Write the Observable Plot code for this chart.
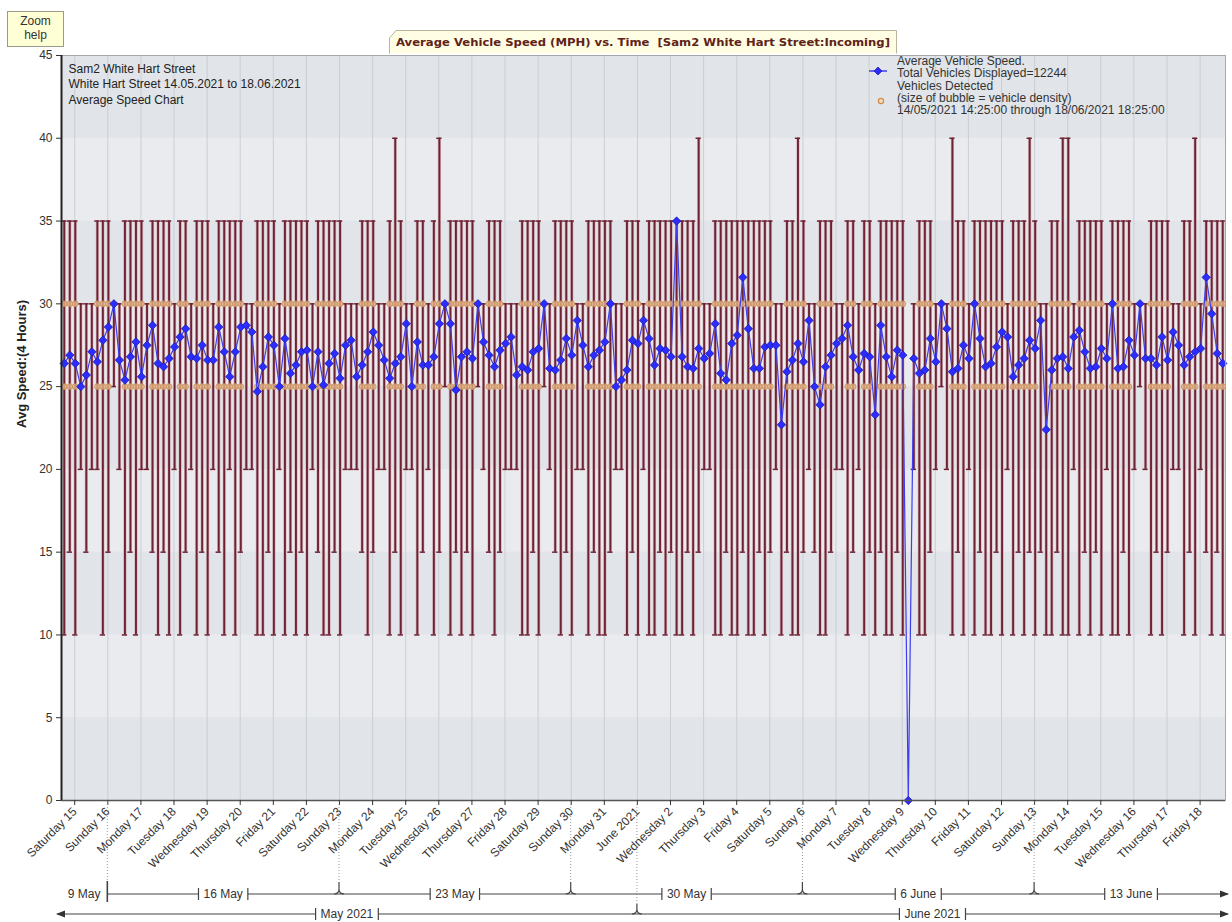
<!DOCTYPE html>
<html><head><meta charset="utf-8">
<script src="https://cdn.jsdelivr.net/npm/d3@7"></script>
<script src="https://cdn.jsdelivr.net/npm/@observablehq/plot@0.6"></script>
<style>html,body{margin:0;padding:0;background:#fff;} svg{display:block}</style>
</head><body><div id="chart"></div>
<script>
// ---------------- DATA ----------------
const startTime = new Date(2021, 4, 14, 14, 25);
const endTime = new Date(2021, 5, 18, 18, 25);
const firstPoint = new Date(2021, 4, 14, 16, 25); // centre of the first 4-hour bin
const binHours = 4;

const avgSpeed = [
26.4,26.9,26.4,25.0,25.7,27.1,26.5,27.8,28.6,30.0,26.6,25.4,26.8,27.7,25.6,27.5,28.7,26.4,26.2,26.7,
27.4,28.0,28.5,26.8,26.7,27.5,26.6,26.6,28.6,27.1,25.6,27.1,28.6,28.7,28.3,24.7,26.2,28.0,27.5,25.0,
27.9,25.8,26.3,27.1,
27.2,25.0,27.1,25.1,26.4,27.0,25.5,27.5,27.8,25.6,26.3,27.1,28.3,27.5,26.6,25.5,26.4,26.8,28.8,25.0,
27.7,26.3,26.3,26.8,28.8,30.0,28.8,24.8,26.8,27.1,26.7,30.0,27.7,26.9,26.2,27.2,27.6,28.0,25.7,26.2,
26.0,27.1,
27.3,30.0,26.1,26.0,26.6,27.9,26.9,29.0,27.5,26.2,26.9,27.2,27.7,30.0,25.0,25.4,26.0,27.8,27.6,29.0,
27.9,26.3,27.3,27.2,26.8,35.0,26.8,26.2,26.1,27.3,26.7,27.0,28.8,25.8,25.4,27.6,28.1,31.6,28.5,26.1,
26.1,27.4,27.5,
27.5,22.7,25.9,26.6,27.6,26.5,29.0,25.0,23.9,26.2,26.9,27.6,27.9,28.7,26.8,26.0,27.0,26.8,23.3,28.7,
26.8,25.6,27.2,26.9,0,26.7,25.8,26.0,27.9,26.5,30.0,28.5,25.9,26.1,27.5,26.7,30.0,27.9,26.2,26.4,
27.4,28.3,28.0,25.6,
26.3,26.7,27.8,27.3,29.0,22.4,26.0,26.7,26.8,26.1,28.0,28.4,27.1,26.1,26.2,27.3,26.7,30.0,26.1,26.2,
27.8,26.9,30.0,26.7,26.7,26.3,28.0,26.6,28.3,27.5,26.3,26.8,27.1,27.3,31.6,29.4,27.0,26.4
];

const maxSpeed = [
35,35,35,30,30,30,35,35,35,30,
30,35,35,35,35,30,35,35,35,35,
30,35,35,30,35,35,35,30,35,35,
35,35,35,30,30,35,35,35,35,30,
35,35,35,35,35,30,35,35,35,35,
35,30,30,30,35,35,35,30,30,35,
40,35,30,30,35,35,30,35,40,30,
35,35,35,35,35,30,30,35,35,35,
30,30,30,35,35,35,35,30,30,35,
35,35,35,30,30,35,35,35,35,35,
30,30,35,35,35,30,35,35,35,35,
35,35,35,35,35,40,30,30,35,35,
35,35,35,35,35,35,35,35,35,30,
30,35,35,40,35,30,30,35,35,35,
30,30,35,35,30,35,35,30,35,35,
35,35,35,null,30,35,35,35,30,30,
30,40,35,35,30,35,35,35,35,35,
35,30,35,35,35,40,35,30,30,35,
35,40,40,30,35,35,35,35,35,30,
35,35,35,35,30,30,30,35,35,35,
35,30,30,35,35,40,30,35,35,35,
35
];

const minSpeed = [
10,15,10,20,15,20,20,10,15,25,
20,10,15,10,20,20,15,10,15,10,
20,10,15,20,10,15,10,20,15,10,
20,10,15,20,20,10,10,15,10,20,
10,15,10,15,10,20,15,10,10,15,
10,20,20,20,15,10,15,20,20,10,
15,10,20,20,10,15,20,10,15,25,
10,15,10,15,10,25,20,15,10,15,
20,20,20,10,10,15,10,25,20,15,
10,15,10,20,20,10,15,10,10,15,
20,20,10,15,10,20,10,10,15,10,
15,10,10,15,10,15,20,20,10,10,
15,10,10,15,10,10,15,10,15,20,
10,15,10,10,15,20,15,10,10,15,
20,20,10,15,20,10,15,10,15,10,
10,15,10,null,20,10,10,15,20,25,
20,10,15,10,20,10,15,10,10,15,
10,20,10,15,10,15,10,15,10,10,
15,10,10,20,10,15,10,15,10,20,
10,10,15,10,20,25,20,10,15,10,
15,20,20,10,15,10,20,15,10,15,
10
];

const bubbleLevels = [25, 30];
const yTicks = [0, 5, 10, 15, 20, 25, 30, 35, 40, 45];
const dayLabels = ["Saturday 15","Sunday 16","Monday 17","Tuesday 18","Wednesday 19","Thursday 20","Friday 21",
  "Saturday 22","Sunday 23","Monday 24","Tuesday 25","Wednesday 26","Thursday 27","Friday 28","Saturday 29",
  "Sunday 30","Monday 31","June 2021","Wednesday 2","Thursday 3","Friday 4","Saturday 5","Sunday 6","Monday 7",
  "Tuesday 8","Wednesday 9","Thursday 10","Friday 11","Saturday 12","Sunday 13","Monday 14","Tuesday 15",
  "Wednesday 16","Thursday 17","Friday 18"];
const weekStarts = [new Date(2021,4,9), new Date(2021,4,16), new Date(2021,4,23), new Date(2021,4,30),
  new Date(2021,5,6), new Date(2021,5,13), new Date(2021,5,20)];
const weekLabels = ["9 May","16 May","23 May","30 May","6 June","13 June"];
const monthStarts = [new Date(2021,4,1), new Date(2021,5,1), new Date(2021,6,1)];
const monthLabels = ["May 2021","June 2021"];

const chartTitle = "Average Vehicle Speed (MPH) vs. Time  [Sam2 White Hart Street:Incoming]";
const infoLines = ["Sam2 White Hart Street", "White Hart Street 14.05.2021 to 18.06.2021", "Average Speed Chart"];
const legendLine1 = ["Average Vehicle Speed.", "Total Vehicles Displayed=12244"];
const legendLine2 = ["Vehicles Detected", "(size of bubble = vehicle density)", "14/05/2021 14:25:00 through 18/06/2021 18:25:00"];
const yLabel = "Avg Speed:(4 Hours)";

// ---------------- BUILD ----------------
const H = 3600 * 1000;
const rows = avgSpeed.map((v, i) => ({
  t: new Date(+firstPoint + i * binHours * H), avg: v, max: maxSpeed[i], min: minSpeed[i]
}));
const barRows = rows.filter(d => d.max != null);
const bubbles = [];
for (const d of barRows) for (const L of bubbleLevels) {
  if (d.max >= 35 && d.min <= L) bubbles.push({t: d.t, level: L});
}
const dayTicks = dayLabels.map((_, i) => new Date(2021, 4, 15 + i));
const labelOf = new Map(dayTicks.map((d, i) => [+d, dayLabels[i]]));
const darkBands = [0, 10, 20, 30, 40];
const barColor = "#6e2234";

const plot = Plot.plot({
  width: 1232, height: 922,
  marginLeft: 61, marginRight: 7, marginTop: 55, marginBottom: 122,
  style: {fontFamily: "Liberation Sans, Arial, sans-serif", fontSize: "12px", color: "#333", background: "#fff"},
  x: {type: "time", domain: [startTime, endTime]},
  y: {domain: [0, 45]},
  marks: [
    Plot.frame({fill: "#e9ebee"}),
    Plot.rect(darkBands, {x1: () => startTime, x2: () => endTime, y1: d => d, y2: d => d + 5, fill: "#e1e4e8"}),
    Plot.ruleX(dayTicks, {stroke: "#cbcfd3", strokeWidth: 1}),
    Plot.ruleX(barRows, {x: "t", y1: "min", y2: "max", stroke: "#c8919b", strokeWidth: 3.2, strokeOpacity: 0.6}),
    Plot.ruleX(barRows, {x: "t", y1: "min", y2: "max", stroke: barColor, strokeWidth: 1.9}),
    Plot.ruleY(barRows, {y: "max", x1: d => new Date(+d.t - 1.9 * H), x2: d => new Date(+d.t + 1.9 * H), stroke: barColor, strokeWidth: 1.5}),
    Plot.ruleY(barRows, {y: "min", x1: d => new Date(+d.t - 1.9 * H), x2: d => new Date(+d.t + 1.9 * H), stroke: barColor, strokeWidth: 1.5}),
    Plot.dot(bubbles, {x: "t", y: "level", r: 2.9, fill: "#e3b487", fillOpacity: 0.8, stroke: "#c98a4e", strokeWidth: 0.8}),
    Plot.line(rows, {x: "t", y: "avg", stroke: "#3d3df2", strokeWidth: 1.2}),
    Plot.dot(rows, {x: "t", y: "avg", symbol: "diamond2", r: 3.8, fill: "#2c2cff", stroke: "#16169c", strokeWidth: 0.7}),
    Plot.frame({stroke: "#a4a8ad"}),
    Plot.ruleY([0], {stroke: "#555", strokeWidth: 1.5}),
    Plot.ruleX([startTime], {stroke: "#222", strokeWidth: 2}),
    Plot.axisY({ticks: yTicks, tickSize: 5, tickPadding: 4, fontSize: 12, label: null}),
    Plot.axisX({ticks: dayTicks, tickSize: 5, tickPadding: 4, tickRotate: -45, fontSize: 12,
      tickFormat: d => labelOf.get(+d), label: null}),
    Plot.text([yLabel], {frameAnchor: "left", rotate: -90, dx: -40, fontWeight: "bold", fontSize: 13, fill: "#222"}),
    Plot.text([infoLines.join("\n")], {frameAnchor: "top-left", dx: 7, dy: 6, lineAnchor: "top", lineHeight: 1.3,
      textAnchor: "start", fontSize: 12, fill: "#222"})
  ]
});
document.getElementById("chart").appendChild(plot);

// ---------------- DECORATIONS ----------------
const svg = d3.select(plot);
const xs = plot.scale("x");
const X = d => xs.apply(d);
const left = X(startTime), right = X(endTime);
const deco = svg.append("g").attr("font-family", "Liberation Sans, Arial, sans-serif").attr("font-size", 12)
  .attr("fill", "#333").attr("text-anchor", "start");

// Zoom help box
deco.append("rect").attr("x", 7.5).attr("y", 11.5).attr("width", 56).attr("height", 35).attr("fill", "#ffffd6").attr("stroke", "#9a9a8a");
deco.append("text").attr("x", 35.5).attr("y", 25).attr("text-anchor", "middle").text("Zoom");
deco.append("text").attr("x", 35.5).attr("y", 39).attr("text-anchor", "middle").text("help");

// Title tab
deco.append("path").attr("d", "M389.5,53.5 L389.5,38 L396,30.5 L896.5,30.5 L896.5,53.5").attr("fill", "#fffde4").attr("stroke", "#b9b49c");
deco.append("text").attr("x", 396).attr("y", 46).attr("text-anchor", "start").attr("font-family", "DejaVu Sans, Verdana, sans-serif")
  .attr("font-weight", "bold").attr("font-size", 11).attr("fill", "#5e2316")
  .attr("textLength", 494).attr("lengthAdjust", "spacingAndGlyphs").text(chartTitle);

// Legend
const lg = deco.append("g").attr("fill", "#333").attr("font-size", 12);
lg.append("line").attr("x1", 869).attr("x2", 887).attr("y1", 71).attr("y2", 71).attr("stroke", "#3d3df2").attr("stroke-width", 1.5);
lg.append("path").attr("d", "M878,67 L882,71 L878,75 L874,71 Z").attr("fill", "#2c2cff").attr("stroke", "#16169c").attr("stroke-width", 0.7);
lg.append("circle").attr("cx", 881).attr("cy", 101).attr("r", 2.6).attr("fill", "#f3dcbf").attr("stroke", "#d28a46").attr("stroke-width", 1.2);
legendLine1.forEach((s, i) => lg.append("text").attr("x", 897).attr("y", 65 + i * 12).text(s));
legendLine2.forEach((s, i) => lg.append("text").attr("x", 897).attr("y", 90 + i * 12).text(s));

// Guide (dotted) lines
const wy = 894, my = 914;
const guide = (x, y2) => deco.append("line").attr("x1", x).attr("x2", x).attr("y1", 801).attr("y2", y2)
  .attr("stroke", "#9a9a9a").attr("stroke-dasharray", "1,2");
weekStarts.forEach(d => { const x = X(d); if (x > left + 1 && x < right - 1) guide(x, wy - 12); });
monthStarts.forEach(d => { const x = X(d); if (x > left + 1 && x < right - 1) guide(x, my - 10); });

function tier(y, starts, labels, leftArrow, notchH) {
  const g = deco.append("g").attr("stroke", "#444").attr("stroke-width", 1.2);
  const segs = [];
  for (let k = 0; k < labels.length; k++) {
    const a0 = X(starts[k]), b0 = X(starts[k + 1]);
    const a = Math.max(a0, leftArrow ? left - 4 : left), b = Math.min(b0, right + 3);
    if (b <= a) continue;
    segs.push({a, b, label: labels[k]});
  }
  segs.forEach(s => {
    const c = (s.a + s.b) / 2;
    const t = deco.append("text").attr("x", c).attr("y", y).attr("dy", "0.35em").attr("text-anchor", "middle").text(s.label);
    const w = t.node().getComputedTextLength();
    s.labelOnly = (s.b - s.a) < w + 30;
    if (!s.labelOnly) {
      const l = c - w / 2 - 5, r = c + w / 2 + 5;
      g.append("line").attr("x1", s.a).attr("x2", l).attr("y1", y).attr("y2", y);
      g.append("line").attr("x1", r).attr("x2", s.b).attr("y1", y).attr("y2", y);
      g.append("line").attr("x1", l).attr("x2", l).attr("y1", y - 6).attr("y2", y + 6);
      g.append("line").attr("x1", r).attr("x2", r).attr("y1", y - 6).attr("y2", y + 6);
    }
  });
  for (let k = 1; k < segs.length; k++) {
    const x = segs[k].a;
    if (segs[k - 1].labelOnly) {
      g.append("line").attr("x1", x).attr("x2", x).attr("y1", y - 13).attr("y2", y + 8).attr("stroke-width", 1.6);
    } else {
      g.append("path").attr("fill", "none").attr("d", `M${x - 5},${y} Q${x},${y} ${x},${y - 5} L${x},${y - notchH} M${x + 5},${y} Q${x},${y} ${x},${y - 5}`);
    }
  }
  deco.append("path").attr("fill", "#333").attr("d", `M${right + 4},${y} L${right - 5},${y - 3.5} L${right - 5},${y + 3.5} Z`);
  if (leftArrow) deco.append("path").attr("fill", "#333").attr("d", `M${left - 5},${y} L${left + 4},${y - 3.5} L${left + 4},${y + 3.5} Z`);
}
tier(wy, weekStarts, weekLabels, false, 12);
tier(my, monthStarts, monthLabels, true, 10);
</script>
</body></html>
